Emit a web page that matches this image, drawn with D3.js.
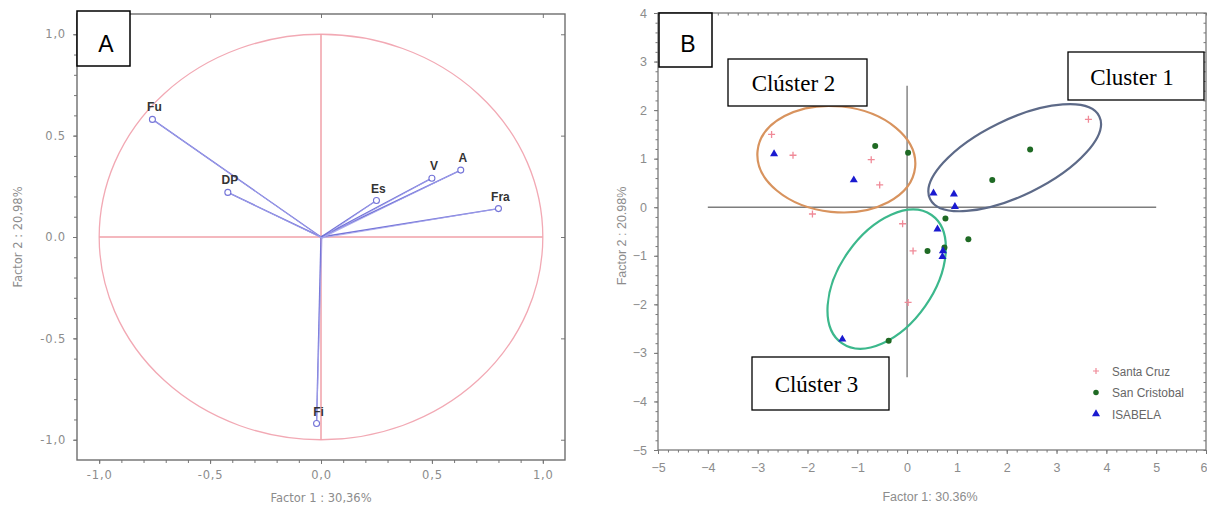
<!DOCTYPE html>
<html>
<head>
<meta charset="utf-8">
<script src="https://cdn.jsdelivr.net/npm/d3@7"></script>
<style>
body { margin: 0; background: #fff; }
svg { display: block; font-family: "Liberation Sans", Arial, sans-serif; }
.axis path, .axis line { stroke: #777; }
.axis text { fill: #8c8c8c; }
.minor text { display: none; }
</style>
</head>
<body>
<svg id="chart" width="1207" height="507"></svg>
<script>
// ---- Panel A : variable loadings on factor 1 / factor 2
var varNames = ["Fu", "DP", "Es", "V", "A", "Fra", "Fi"];
var loadF1 = [-0.76, -0.42, 0.25, 0.50, 0.63, 0.80, -0.02];
var loadF2 = [0.58, 0.22, 0.18, 0.29, 0.33, 0.14, -0.92];
var ticksA = [-1, -0.5, 0, 0.5, 1];
var tickLabelsAx = ["-1,0", "-0,5", "0,0", "0,5", "1,0"];
var tickLabelsAy = ["-1,0", "-0.5", "0.0", "0.5", "1,0"];

// ---- Panel B : scores by island
var groups = ["Santa Cruz", "San Cristobal", "ISABELA"];
var santaCruz = [[-2.72, 1.50], [-2.29, 1.07], [-0.72, 0.98], [-0.55, 0.46], [-1.90, -0.14],
                 [-0.09, -0.34], [0.12, -0.90], [0.02, -1.96], [3.64, 1.81]];
var sanCristobal = [[-0.64, 1.26], [0.02, 1.12], [0.77, -0.23], [1.23, -0.66], [0.41, -0.90],
                    [0.75, -0.83], [-0.37, -2.75], [2.47, 1.19], [1.71, 0.56]];
var isabela = [[-2.67, 1.10], [-1.07, 0.56], [0.53, 0.29], [0.94, 0.27], [0.96, 0.01],
               [0.61, -0.45], [0.72, -0.90], [0.71, -1.02], [-1.30, -2.72]];
var ticksBx = [-5, -4, -3, -2, -1, 0, 1, 2, 3, 4, 5, 6];
var ticksBy = [-5, -4, -3, -2, -1, 0, 1, 2, 3, 4];

// cluster ellipses (centre and semi axes in factor units, rotation in degrees)
var clusterNames = ["Cluster 1", "Clúster 2", "Clúster 3"];
var clusterCx = [2.16, -1.42, -0.41];
var clusterCy = [1.02, 0.99, -1.48];
var clusterRa = [1.89, 1.59, 1.57];
var clusterRb = [0.78, 1.09, 0.97];
var clusterRot = [-26, 6, -55];

var svg = d3.select("#chart");
var wideFont = "'DejaVu Sans', Verdana, sans-serif";

// ================= PANEL A =================
var xA = d3.scaleLinear().domain([-1.1, 1.1]).range([77, 565]);
var yA = d3.scaleLinear().domain([-1.1, 1.1]).range([460, 14]);
var gA = svg.append("g");

// minor ticks
gA.append("g").attr("class", "axis minor").attr("transform", "translate(0,460)")
    .call(d3.axisBottom(xA).tickValues(d3.range(-10, 11).map(d => d / 10)).tickSize(3));
gA.append("g").attr("class", "axis minor").attr("transform", "translate(77,0)")
    .call(d3.axisLeft(yA).tickValues(d3.range(-10, 11).map(d => d / 10)).tickSize(3));

gA.append("g").attr("class", "axis").attr("transform", "translate(0,460)")
    .call(d3.axisBottom(xA).tickValues(ticksA).tickSize(4).tickPadding(7)
        .tickFormat((d, i) => tickLabelsAx[i]))
    .attr("font-size", 11.5).attr("font-family", wideFont).attr("letter-spacing", 0.8);
gA.append("g").attr("class", "axis").attr("transform", "translate(77,0)")
    .call(d3.axisLeft(yA).tickValues(ticksA).tickSize(4).tickPadding(7)
        .tickFormat((d, i) => tickLabelsAy[i]))
    .attr("font-size", 11.5).attr("font-family", wideFont).attr("letter-spacing", 0.8);
gA.append("g").attr("class", "axis minor").attr("transform", "translate(0,14)")
    .call(d3.axisTop(xA).tickValues(ticksA).tickSize(-4));
gA.append("g").attr("class", "axis minor").attr("transform", "translate(565,0)")
    .call(d3.axisRight(yA).tickValues(ticksA).tickSize(-4));
gA.selectAll(".domain").remove();
gA.append("rect").attr("x", 77).attr("y", 14).attr("width", 488).attr("height", 446)
    .attr("fill", "none").attr("stroke", "#6e6e6e").attr("stroke-width", 1.4);

// unit circle and cross
gA.append("ellipse")
    .attr("cx", xA(0)).attr("cy", yA(0))
    .attr("rx", xA(1) - xA(0)).attr("ry", yA(0) - yA(1))
    .attr("fill", "none").attr("stroke", "#f2a9b4").attr("stroke-width", 1.3);
gA.append("line").attr("x1", xA(-1)).attr("x2", xA(1)).attr("y1", yA(0)).attr("y2", yA(0))
    .attr("stroke", "#f0a0a8").attr("stroke-width", 1.5);
gA.append("line").attr("x1", xA(0)).attr("x2", xA(0)).attr("y1", yA(1)).attr("y2", yA(-1))
    .attr("stroke", "#f0a0a8").attr("stroke-width", 1.5);

// vectors
var loadings = varNames.map((n, i) => ({ name: n, x: loadF1[i], y: loadF2[i] }));
gA.selectAll(".vec").data(loadings).enter().append("line")
    .attr("x1", xA(0)).attr("y1", yA(0))
    .attr("x2", d => xA(d.x)).attr("y2", d => yA(d.y))
    .attr("stroke", "#7474d8").attr("stroke-width", 1.4);
gA.selectAll(".vec2").data(loadings).enter().append("line")
    .attr("x1", xA(0) + 1).attr("y1", yA(0) + 1)
    .attr("x2", d => xA(d.x)).attr("y2", d => yA(d.y))
    .attr("stroke", "#a4a4ec").attr("stroke-width", 0.8);
gA.selectAll(".tip").data(loadings).enter().append("circle")
    .attr("cx", d => xA(d.x)).attr("cy", d => yA(d.y)).attr("r", 3)
    .attr("fill", "#fff").attr("stroke", "#7474d8").attr("stroke-width", 1.1);
gA.selectAll(".lab").data(loadings).enter().append("text")
    .attr("x", d => xA(d.x) + 2).attr("y", d => yA(d.y) - 8)
    .attr("text-anchor", "middle").attr("font-size", 12).attr("font-weight", "bold")
    .attr("fill", "#333").text(d => d.name);

// axis titles
gA.append("text").attr("x", 321).attr("y", 502).attr("text-anchor", "middle")
    .attr("font-size", 11.5).attr("font-family", wideFont).attr("fill", "#8c8c8c").text("Factor 1 : 30,36%");
gA.append("text").attr("transform", "translate(22,237) rotate(-90)").attr("text-anchor", "middle")
    .attr("font-size", 11.5).attr("font-family", wideFont).attr("fill", "#8c8c8c").text("Factor 2 : 20,98%");

// panel letter
gA.append("rect").attr("x", 77).attr("y", 11).attr("width", 53).attr("height", 55)
    .attr("fill", "#fff").attr("stroke", "#000").attr("stroke-width", 1.5);
gA.append("text").attr("x", 106).attr("y", 52).attr("text-anchor", "middle")
    .attr("font-size", 23).attr("fill", "#000").text("A");

// ================= PANEL B =================
var xB = d3.scaleLinear().domain([-5, 6]).range([658, 1206]);
var yB = d3.scaleLinear().domain([-5, 4]).range([450, 13]);
var gB = svg.append("g");

gB.append("g").attr("class", "axis minor").attr("transform", "translate(0,13)")
    .call(d3.axisTop(xB).tickValues(d3.range(-25, 31).map(d => d / 5)).tickSize(-2.5));
gB.append("g").attr("class", "axis minor").attr("transform", "translate(0,450)")
    .call(d3.axisBottom(xB).tickValues(d3.range(-25, 31).map(d => d / 5)).tickSize(2.5));
gB.append("g").attr("class", "axis minor").attr("transform", "translate(658,0)")
    .call(d3.axisLeft(yB).tickValues(d3.range(-25, 21).map(d => d / 5)).tickSize(2.5));
gB.append("g").attr("class", "axis minor").attr("transform", "translate(1206,0)")
    .call(d3.axisRight(yB).tickValues(d3.range(-25, 21).map(d => d / 5)).tickSize(-2.5));

var bx = gB.append("g").attr("class", "axis").attr("transform", "translate(0,450)")
    .call(d3.axisBottom(xB).tickValues(ticksBx).tickSize(4).tickPadding(9).tickFormat(d3.format("d")))
    .attr("font-size", 12.5);
// the last label sits on the right edge of the window
bx.selectAll(".tick text").filter(d => d === 6).attr("text-anchor", "end").attr("dx", 1);
gB.append("g").attr("class", "axis").attr("transform", "translate(658,0)")
    .call(d3.axisLeft(yB).tickValues(ticksBy).tickSize(4).tickPadding(7).tickFormat(d3.format("d")))
    .attr("font-size", 12.5);
gB.selectAll(".domain").remove();
gB.append("rect").attr("x", 658).attr("y", 13).attr("width", 548).attr("height", 437)
    .attr("fill", "none").attr("stroke", "#7a7a7a").attr("stroke-width", 1.3);

// reference cross
gB.append("line").attr("x1", xB(-4)).attr("x2", xB(5)).attr("y1", yB(0)).attr("y2", yB(0))
    .attr("stroke", "#7d7d7d").attr("stroke-width", 1.4);
gB.append("line").attr("x1", xB(0)).attr("x2", xB(0)).attr("y1", yB(2.5)).attr("y2", yB(-3.5))
    .attr("stroke", "#7d7d7d").attr("stroke-width", 1.4);

// cluster ellipses
var clusterColors = ["#5d6a88", "#d8935e", "#3cb88c"];
var clusters = clusterNames.map((n, i) => ({
    name: n, cx: clusterCx[i], cy: clusterCy[i], a: clusterRa[i], b: clusterRb[i], rot: clusterRot[i], color: clusterColors[i]
}));
gB.selectAll(".clu").data(clusters).enter().append("ellipse")
    .attr("transform", d => "translate(" + xB(d.cx) + "," + yB(d.cy) + ") rotate(" + d.rot + ")")
    .attr("rx", d => xB(d.cx + d.a) - xB(d.cx))
    .attr("ry", d => yB(d.cy) - yB(d.cy + d.b))
    .attr("fill", "none").attr("stroke", d => d.color).attr("stroke-width", 2.2);

// points
var pinkCol = "#f08a98", greenCol = "#1f6a24", blueCol = "#1a1ad0";
gB.selectAll(".sc").data(santaCruz).enter().append("path")
    .attr("transform", d => "translate(" + xB(d[0]) + "," + yB(d[1]) + ")")
    .attr("d", "M-3.5,0H3.5M0,-3.5V3.5")
    .attr("stroke", pinkCol).attr("stroke-width", 1.3);
gB.selectAll(".scr").data(sanCristobal).enter().append("circle")
    .attr("cx", d => xB(d[0])).attr("cy", d => yB(d[1])).attr("r", 3)
    .attr("fill", greenCol);
var tri = d3.symbol().type(d3.symbolTriangle).size(28);
gB.selectAll(".isa").data(isabela).enter().append("path")
    .attr("transform", d => "translate(" + xB(d[0]) + "," + yB(d[1]) + ")")
    .attr("d", tri).attr("fill", blueCol);

// legend
var legend = gB.append("g").attr("transform", "translate(1096,371)");
var legWidths = [58, 72, 49];
var legRows = legend.selectAll("g").data(groups).enter().append("g")
    .attr("transform", (d, i) => "translate(0," + (i * 21.5) + ")");
legRows.append("path")
    .attr("d", (d, i) => i === 0 ? "M-3,0H3M0,-3V3" : i === 1 ? d3.symbol().type(d3.symbolCircle).size(24)() : tri())
    .attr("stroke", (d, i) => i === 0 ? pinkCol : "none")
    .attr("stroke-width", 1.2)
    .attr("fill", (d, i) => i === 1 ? greenCol : i === 2 ? blueCol : "none");
legRows.append("text").attr("x", 16).attr("y", 4.5)
    .attr("font-size", 12).attr("fill", "#666")
    .attr("textLength", (d, i) => legWidths[i]).attr("lengthAdjust", "spacingAndGlyphs")
    .text(d => d);

// axis titles
gB.append("text").attr("x", 930).attr("y", 501).attr("text-anchor", "middle")
    .attr("font-size", 12.5).attr("fill", "#8c8c8c").text("Factor 1: 30.36%");
gB.append("text").attr("transform", "translate(626,236) rotate(-90)").attr("text-anchor", "middle")
    .attr("font-size", 12.5).attr("fill", "#8c8c8c").text("Factor 2 : 20.98%");

// panel letter and cluster captions
gB.append("rect").attr("x", 659).attr("y", 13).attr("width", 53).attr("height", 54)
    .attr("fill", "#fff").attr("stroke", "#000").attr("stroke-width", 1.5);
gB.append("text").attr("x", 688).attr("y", 52).attr("text-anchor", "middle")
    .attr("font-size", 23).attr("fill", "#000").text("B");

var captionBoxes = [
    { text: "Clúster 2", x: 728, y: 59, w: 139, h: 47 },
    { text: "Cluster 1", x: 1068, y: 52, w: 136, h: 48 },
    { text: "Clúster 3", x: 752, y: 357, w: 137, h: 53 }
];
var caps = gB.selectAll(".cap").data(captionBoxes).enter().append("g");
caps.append("rect").attr("x", d => d.x).attr("y", d => d.y).attr("width", d => d.w).attr("height", d => d.h)
    .attr("fill", "#fff").attr("stroke", "#000").attr("stroke-width", 1.3);
caps.append("text").attr("x", d => d.x + d.w / 2 - 4).attr("y", d => d.y + d.h / 2 + 8.5)
    .attr("text-anchor", "middle").attr("font-family", "'Liberation Serif', 'Times New Roman', serif")
    .attr("font-size", 23).attr("fill", "#000").text(d => d.text);
</script>
</body>
</html>
